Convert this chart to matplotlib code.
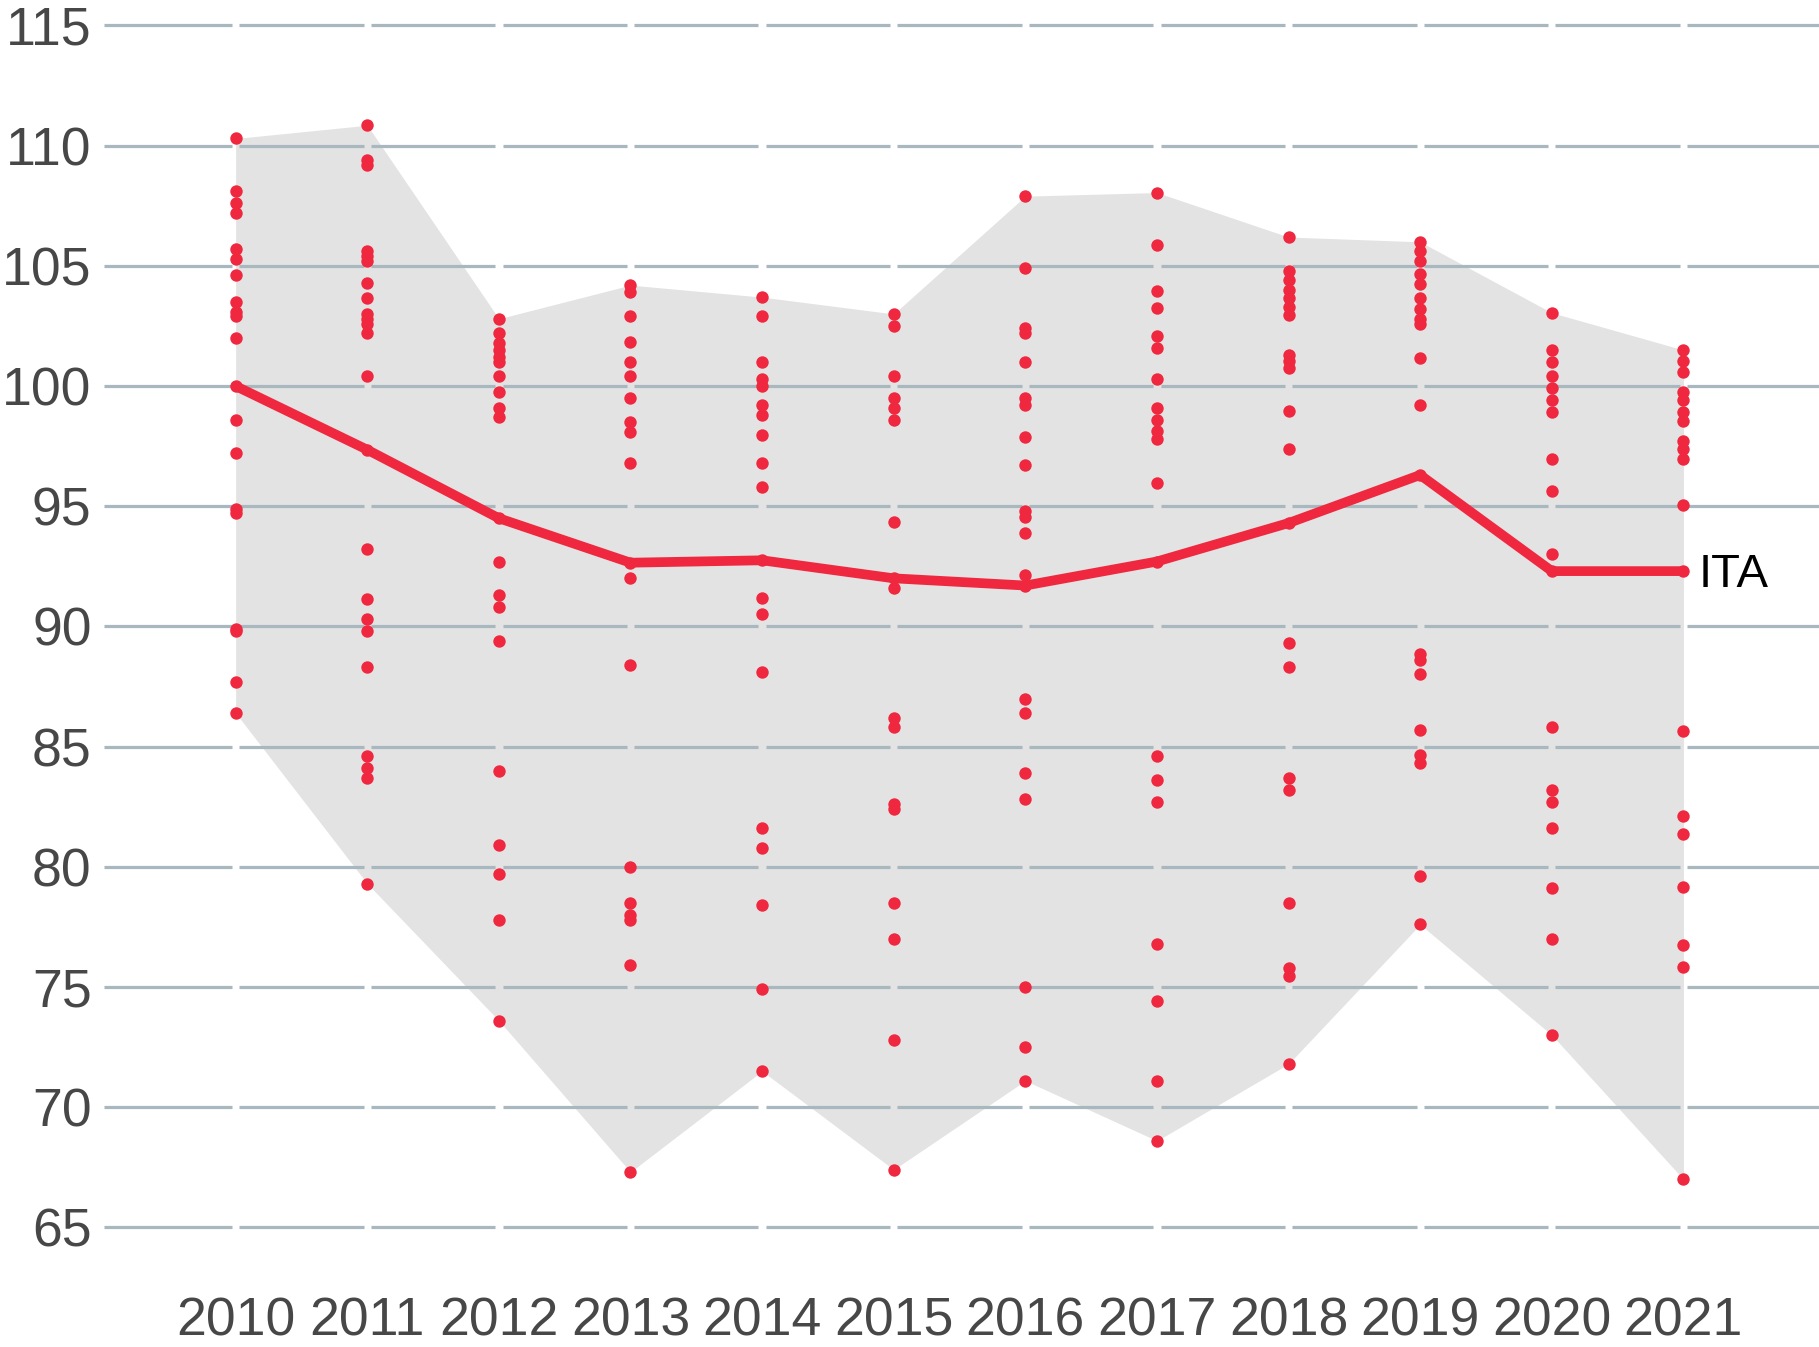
import numpy as np
import matplotlib
matplotlib.use("Agg")
import matplotlib.pyplot as plt

years = list(range(2010, 2022))

y2010 = [110.3, 108.1, 107.6, 107.2, 105.7, 105.3, 104.6, 103.5, 103.1, 102.9, 102.0, 98.6, 97.2, 94.9, 94.7, 89.9, 89.8, 87.7, 86.4]
y2011 = [110.85, 109.4, 109.2, 105.6, 105.4, 105.2, 104.3, 103.65, 103.0, 102.8, 102.6, 102.2, 100.4, 93.2, 91.15, 90.3, 89.8, 88.3, 84.6, 84.1, 83.7, 79.3]
y2012 = [102.8, 102.2, 101.8, 101.5, 101.2, 101.0, 100.4, 99.75, 99.1, 98.7, 92.7, 91.3, 90.8, 89.4, 84.0, 80.9, 79.7, 77.8, 73.6]
y2013 = [104.2, 103.9, 102.9, 101.85, 101.0, 100.4, 99.5, 98.5, 98.1, 96.8, 92.0, 88.4, 80.0, 78.5, 78.0, 77.8, 75.9, 67.3]
y2014 = [103.7, 102.9, 101.0, 100.3, 100.0, 99.2, 98.8, 97.95, 96.8, 95.8, 91.2, 90.5, 88.1, 81.6, 80.8, 78.4, 74.9, 71.5]
y2015 = [103.0, 102.5, 100.4, 99.5, 99.1, 98.6, 94.35, 91.6, 86.2, 85.8, 82.6, 82.4, 78.5, 77.0, 72.8, 67.4]
y2016 = [107.9, 104.9, 102.4, 102.2, 101.0, 99.5, 99.2, 97.9, 96.7, 94.8, 94.55, 93.9, 92.15, 87.0, 86.4, 83.9, 82.8, 75.0, 72.5, 71.1]
y2017 = [108.05, 105.85, 103.95, 103.25, 102.1, 101.6, 100.3, 99.1, 98.6, 98.15, 97.8, 95.95, 84.6, 83.6, 82.7, 76.8, 74.4, 71.1, 68.6]
y2018 = [106.2, 104.8, 104.4, 104.0, 103.65, 103.3, 102.95, 101.3, 101.05, 100.75, 98.95, 97.4, 89.3, 88.3, 83.7, 83.2, 78.5, 75.8, 75.45, 71.8]
y2019 = [106.0, 105.6, 105.2, 104.65, 104.25, 103.65, 103.2, 102.8, 102.6, 101.15, 99.2, 88.85, 88.6, 88.0, 85.7, 84.65, 84.3, 79.6, 77.6]
y2020 = [103.05, 101.5, 101.0, 100.4, 99.9, 99.4, 98.9, 96.95, 95.65, 93.0, 85.8, 83.2, 82.7, 81.6, 79.1, 77.0, 73.0]
y2021 = [101.5, 101.05, 100.6, 99.75, 99.4, 98.9, 98.55, 97.7, 97.4, 96.95, 95.05, 85.65, 82.1, 81.35, 79.15, 76.75, 75.85, 67.0]

others = [y2010, y2011, y2012, y2013, y2014, y2015, y2016, y2017, y2018, y2019, y2020, y2021]
ita = [100.0, 97.35, 94.5, 92.65, 92.75, 92.0, 91.7, 92.7, 94.3, 96.3, 92.3, 92.3]
ita_label = "ITA"
yticks = list(range(65, 116, 5))

RED = "#f0283f"
GRID = "#a9b7bf"
BAND = "#e3e3e3"
TXT = "#474747"

plt.rcParams['font.family'] = ['Liberation Sans', 'DejaVu Sans']

fig = plt.figure(figsize=(18.19, 13.47), dpi=100)
ax = fig.add_axes([104/1819, 1-1227.3/1347, 1-104/1819, (1227.3-25.5)/1347])

xmin, xmax = 2009.0, 2022.03
ax.set_xlim(xmin, xmax)
ax.set_ylim(65, 115)

lo = [min(o + [v]) for o, v in zip(others, ita)]
hi = [max(o + [v]) for o, v in zip(others, ita)]
ax.fill_between(years, lo, hi, color=BAND, lw=0, zorder=1)

# gridlines with small gaps at each year
gap = 0.028
edges = [xmin] + years + [xmax]
for yv in yticks:
    for a, b in zip(edges[:-1], edges[1:]):
        s = a + gap if a in years else a
        e = b - gap if b in years else b
        ax.plot([s, e], [yv, yv], color=GRID, lw=2.3, zorder=2, clip_on=False,
                solid_capstyle='butt')

for yr, vals in zip(years, others):
    ax.scatter([yr]*len(vals), vals, s=80, color=RED, lw=0, zorder=3, clip_on=False)
ax.scatter(years, ita, s=80, color=RED, lw=0, zorder=3)
ax.plot(years, ita, color=RED, lw=7, solid_capstyle='round', solid_joinstyle='round', zorder=4)

ax.annotate(ita_label, xy=(years[-1], ita[-1]), xytext=(11, -3), textcoords='offset points',
            va='center', ha='left', fontsize=34, color='black')

ax.set_xticks(years)
ax.set_xticklabels([str(y) for y in years])
ax.set_yticks(yticks)
ax.set_yticklabels([str(y) for y in yticks])
ax.tick_params(axis='both', length=0, labelsize=38.5, labelcolor=TXT)
ax.tick_params(axis='x', pad=50)
ax.tick_params(axis='y', pad=9)
for sp in ax.spines.values():
    sp.set_visible(False)
ax.set_facecolor('white')

fig.savefig("out.png", dpi=100, facecolor='white')
